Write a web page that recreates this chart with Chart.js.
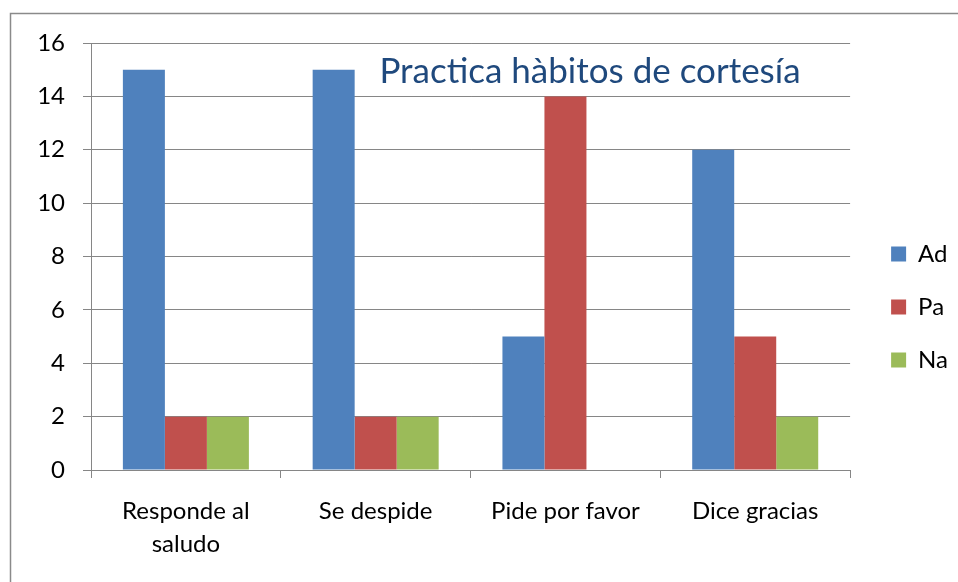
<!DOCTYPE html>
<html>
<head>
<meta charset="utf-8">
<script src="https://cdn.jsdelivr.net/npm/chart.js@4"></script>
<style>
  body { margin: 0; background: #fff; }
  #wrap { width: 958px; height: 582px; position: relative; }
</style>
</head>
<body>
<div id="wrap"><canvas id="myChart"></canvas></div>
<script>
const categories = [['Responde al', 'saludo'], 'Se despide', 'Pide por favor', 'Dice gracias'];
const seriesAd = [15, 15, 5, 12];
const seriesPa = [2, 2, 14, 5];
const seriesNa = [2, 2, 0, 2];
const chartTitle = 'Practica hàbitos de cortesía';

const gridGray = '#868686';
const fontFamily = 'Lato, "Open Sans", sans-serif';

// outer frame of the chart object + title inside the plot
const frameAndTitle = {
  id: 'frameAndTitle',
  beforeDraw(chart) {
    const c = chart.ctx;
    c.save();
    c.fillStyle = '#fff';
    c.fillRect(0, 0, chart.width, chart.height);
    c.strokeStyle = '#8a8a8a';
    c.lineWidth = 1.5;
    c.strokeRect(10.5, 13.5, 2000, 2000);
    c.restore();
  },
  afterDraw(chart) {
    const c = chart.ctx;
    const area = chart.chartArea;
    c.save();
    c.font = '35px ' + fontFamily;
    c.fillStyle = '#1F497D';
    c.textAlign = 'center';
    c.textBaseline = 'alphabetic';
    c.fillText(chartTitle, area.left + 499, area.top + 40);
    c.restore();
  }
};

const ctx = document.getElementById('myChart').getContext('2d');

const myChart = new Chart(ctx, {
  type: 'bar',
  data: {
    labels: categories,
    datasets: [
      { label: 'Ad', data: seriesAd, backgroundColor: '#4F81BD' },
      { label: 'Pa', data: seriesPa, backgroundColor: '#C0504D' },
      { label: 'Na', data: seriesNa, backgroundColor: '#9BBB59' }
    ]
  },
  options: {
    responsive: true,
    maintainAspectRatio: false,
    animation: false,
    datasets: {
      bar: { categoryPercentage: 0.664, barPercentage: 1.0 }
    },
    layout: { padding: { top: 43, right: 0, left: 0, bottom: 11 } },
    plugins: {
      legend: {
        position: 'right',
        labels: {
          boxWidth: 15,
          boxHeight: 15,
          padding: 29,
          color: '#000',
          font: { family: fontFamily, size: 24 }
        }
      },
      tooltip: { enabled: false }
    },
    scales: {
      x: {
        grid: {
          display: true,
          drawOnChartArea: false,
          offset: true,
          color: gridGray,
          tickLength: 8
        },
        border: { color: gridGray },
        ticks: {
          color: '#000',
          padding: 17,
          maxRotation: 0,
          font: { family: fontFamily, size: 24, lineHeight: 1.375 }
        },
        afterFit(scale) { scale.height = 101; }
      },
      y: {
        min: 0,
        max: 16,
        ticks: {
          stepSize: 2,
          color: '#000',
          padding: 18,
          font: { family: fontFamily, size: 24 }
        },
        grid: { color: gridGray, tickLength: 8 },
        border: { color: gridGray },
        afterFit(scale) { scale.width = 91; }
      },
      pad: {
        position: 'right',
        display: true,
        grid: { display: false },
        border: { display: false },
        ticks: { display: false },
        afterFit(scale) { scale.width = 12; }
      }
    }
  },
  plugins: [frameAndTitle]
});
</script>
</body>
</html>
